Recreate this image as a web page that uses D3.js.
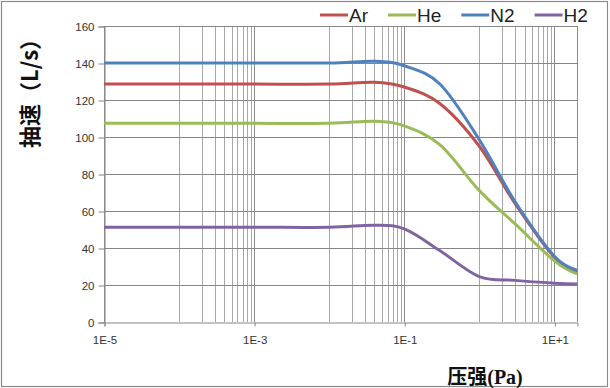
<!DOCTYPE html>
<html lang="zh">
<head>
<meta charset="UTF-8">
<title>抽速 vs 压强</title>
<script src="https://d3js.org/d3.v7.min.js"></script>
<style>
  body { margin: 0; background: #fff; }
  svg { display: block; }
</style>
</head>
<body>
<script>
// pressure points (Pa) and pumping speed (L/s) per gas
const pressure = [1e-5, 1e-4, 1e-3, 1e-2, 0.04, 0.1, 0.3, 1, 3, 10, 20];
const ar = [128.6, 128.6, 128.6, 128.6, 129.6, 127, 118, 95, 64, 35, 27.2];
const he = [107.4, 107.4, 107.4, 107.4, 108.5, 106, 95.7, 71, 53, 33, 26];
const n2 = [140, 140, 140, 140, 140.9, 138.5, 128.5, 98.5, 65, 35.5, 28.1];
const h2 = [51.2, 51.2, 51.2, 51.2, 52.3, 50.3, 38.5, 24.5, 22.5, 21, 20.5];

const seriesNames = ["Ar", "He", "N2", "H2"];
const seriesColors = ["#C0504D", "#9BBB59", "#4F81BD", "#8064A2"];
const yTicks = [0, 20, 40, 60, 80, 100, 120, 140, 160];
const xTicks = [1e-5, 1e-3, 1e-1, 10];
const xTickLabels = ["1E-5", "1E-3", "1E-1", "1E+1"];

const W = 610, H = 388;
const svg = d3.select("body").append("svg").attr("width", W).attr("height", H);

// chart border
svg.append("rect")
  .attr("x", 1.5).attr("y", 1.5).attr("width", 606).attr("height", 385)
  .attr("fill", "#fff").attr("stroke", "#8a8a8a").attr("stroke-width", 1.2);

const x = d3.scaleLog().domain([1e-5, 20]).range([104, 577]);
const y = d3.scaleLinear().domain([0, 160]).range([322, 26]);

// vertical grid: major every 2 decades, minor lines in the even decades
let vgrid = [];
[-4, -2, 0].forEach(k => {
  for (let m = 1; m <= 9; m++) vgrid.push(m * Math.pow(10, k));
});
svg.append("g").selectAll("line").data(vgrid).join("line")
  .attr("x1", d => Math.round(x(d)) + 0.5).attr("x2", d => Math.round(x(d)) + 0.5)
  .attr("y1", y(160)).attr("y2", y(0))
  .attr("stroke", "#a8a8a8").attr("stroke-width", 1);
svg.append("g").selectAll("line").data(xTicks.concat([20])).join("line")
  .attr("x1", d => Math.round(x(d)) + 0.5).attr("x2", d => Math.round(x(d)) + 0.5)
  .attr("y1", y(160)).attr("y2", y(0))
  .attr("stroke", "#8c8c8c").attr("stroke-width", 1);

// horizontal grid
svg.append("g").selectAll("line").data(yTicks.slice(1)).join("line")
  .attr("x1", x(1e-5)).attr("x2", x(20))
  .attr("y1", d => Math.round(y(d)) + 0.5).attr("y2", d => Math.round(y(d)) + 0.5)
  .attr("stroke", "#868686").attr("stroke-width", 1);

// axes
const yAxis = d3.axisLeft(y).tickValues(yTicks).tickSize(6).tickPadding(4);
const gy = svg.append("g").attr("transform", "translate(104.5,0.5)").call(yAxis);
const xAxis = d3.axisBottom(x).tickValues(xTicks).tickSize(4).tickPadding(9)
  .tickFormat((d, i) => xTickLabels[i]);
const gx = svg.append("g").attr("transform", "translate(0.5,322.5)").call(xAxis);
[gx, gy].forEach(g => {
  g.select(".domain").attr("stroke", "#868686");
  g.selectAll(".tick line").attr("stroke", "#868686");
  g.selectAll("text").attr("fill", "#333")
    .style("font-family", "'Liberation Sans', Arial, sans-serif").style("font-size", "11.5px");
});

// series lines (Excel-like smoothing)
const allSeries = [ar, he, n2, h2];
const line = d3.line()
  .x((d, i) => x(pressure[i]))
  .y(d => y(d))
  .curve(d3.curveCardinal.tension(0));
svg.append("g").selectAll("path").data(allSeries).join("path")
  .attr("d", d => line(d))
  .attr("fill", "none")
  .attr("stroke", (d, i) => seriesColors[i])
  .attr("stroke-width", 3)
  .attr("stroke-linejoin", "round");

// legend
const leg = svg.append("g");
let lx = 320;
seriesNames.forEach((name, i) => {
  leg.append("line")
    .attr("x1", lx).attr("x2", lx + 28).attr("y1", 15).attr("y2", 15)
    .attr("stroke", seriesColors[i]).attr("stroke-width", 3);
  const t = leg.append("text")
    .attr("x", lx + 29).attr("y", 22)
    .attr("fill", "#222")
    .style("font-family", "'Liberation Sans', Arial, sans-serif")
    .style("font-size", "19px")
    .text(name);
  lx = lx + 29 + t.node().getComputedTextLength() + 20;
});

// axis titles
svg.append("text")
  .attr("transform", "translate(38,88) rotate(-90)")
  .attr("text-anchor", "middle")
  .attr("fill", "#111")
  .style("font-family", "'Noto Sans CJK SC', sans-serif")
  .style("font-size", "22px").style("font-weight", "bold")
  .text("抽速（L/s）");

svg.append("text")
  .attr("x", 485).attr("y", 384)
  .attr("text-anchor", "middle")
  .attr("fill", "#111")
  .style("font-family", "'Liberation Serif', 'Noto Sans CJK SC', serif")
  .style("font-size", "20px").style("font-weight", "bold")
  .text("压强(Pa)");
</script>
</body>
</html>
